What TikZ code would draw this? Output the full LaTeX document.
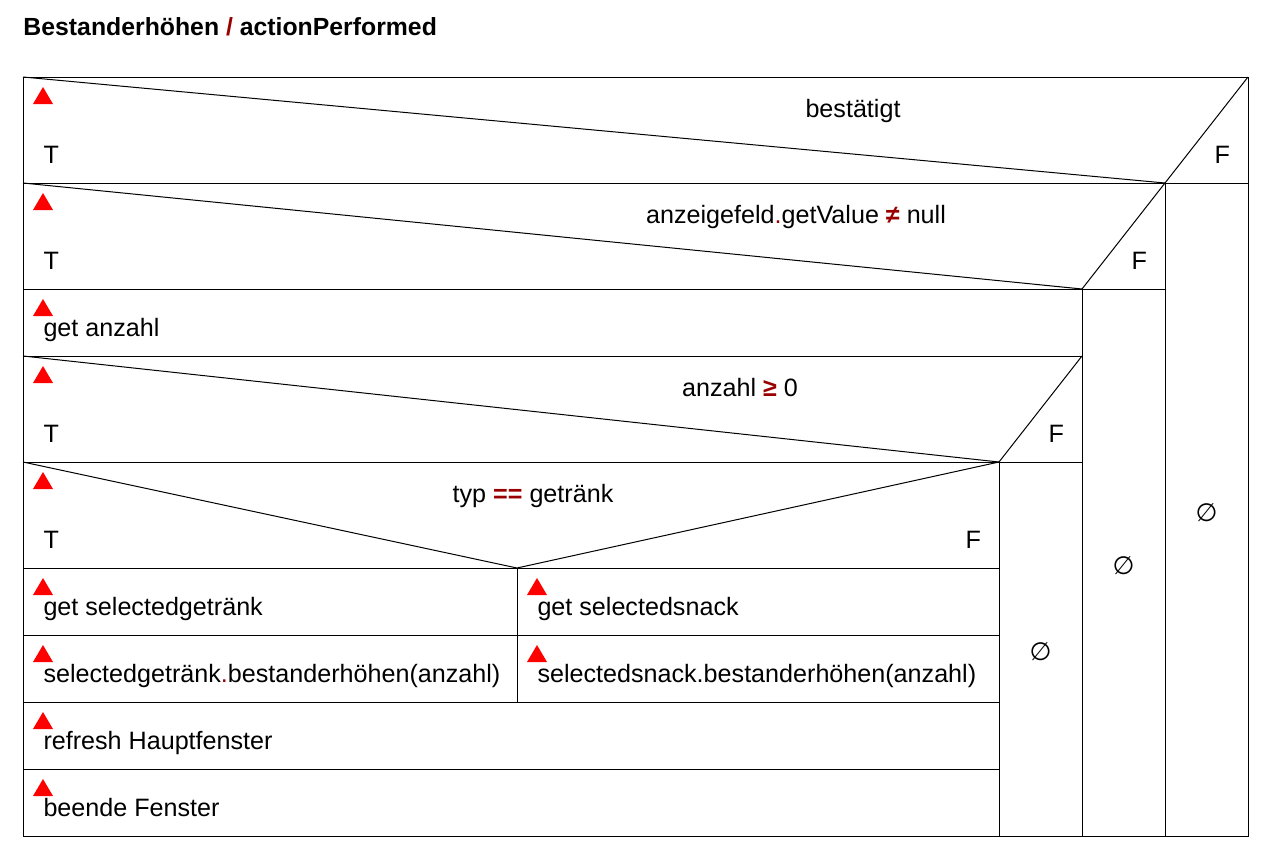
\documentclass[tikz,border=0pt]{standalone}
\usepackage{fontspec}
\setmainfont{Liberation Sans}
\newfontfamily\symfont{DejaVu Sans}
\definecolor{darkred}{RGB}{153,0,0}
\newcommand{\nsfont}{\fontsize{18.85pt}{22pt}\selectfont}
\newcommand{\op}[1]{{\color{darkred}\bfseries#1}}
\newcommand{\dotop}{{\color{darkred}.}}

\tikzset{every picture/.style={line width=0.75pt}}

\begin{document}
\begin{tikzpicture}[x=0.75pt,y=0.75pt,yscale=-1,xscale=1,
	lbl/.style={anchor=base west,inner sep=0pt,font=\nsfont},
	cond/.style={anchor=base,inner sep=0pt,font=\nsfont},
	empty/.style={anchor=center,inner sep=0pt,font=\nsfont\symfont},
	warn/.style={fill=red,draw=none}]
	\path (0,0) rectangle (1268,846); %keep the page at 1268 x 846
	
	%Shape: Rectangle [frame]
	\draw (23,77) rectangle (1248,836);
	%Straight Lines [rows]
	\draw (23,183) -- (1248,183);
	\draw (23,289) -- (1165,289);
	\draw (23,356) -- (1082,356);
	\draw (23,462) -- (1082,462);
	\draw (23,568) -- (999,568);
	\draw (23,635) -- (999,635);
	\draw (23,702) -- (999,702);
	\draw (23,769) -- (999,769);
	%Straight Lines [columns]
	\draw (1165,183) -- (1165,836);
	\draw (1082,289) -- (1082,836);
	\draw (999,462) -- (999,836);
	\draw (517,568) -- (517,702);
	%Straight Lines [branch heads]
	\draw (23,77) -- (1165,183) -- (1248,77);
	\draw (23,183) -- (1082,289) -- (1165,183);
	\draw (23,356) -- (999,462) -- (1082,356);
	\draw (23,462) -- (517,568) -- (999,462);
	
	%Shape: Triangle [one per block]
	\foreach \x/\y in {23/77,23/183,23/289,23/356,23/462,23/568,517/568,23/635,517/635,23/702,23/769}
		\fill[warn] (\x+10,\y+27) -- (\x+20,\y+10) -- (\x+30,\y+27) -- cycle;
	
	% Text Node
	\node (title) [anchor=base west,inner sep=0pt,font=\fontsize{18.6pt}{22pt}\selectfont\bfseries] at (23,36) {Bestanderhöhen \op{/} actionPerformed};
	
	% Text Node
	\node (bestaetigt) [cond] at (853,117) {bestätigt};
	\node (t1) [lbl] at (43,163) {T};
	\node (f1) [lbl] at (1214,163) {F};
	% Text Node
	\node (getvalue) [cond] at (796,223) {anzeigefeld\dotop getValue \op{≠} null};
	\node (t2) [lbl] at (43,269) {T};
	\node (f2) [lbl] at (1131,269) {F};
	% Text Node
	\node (getanzahl) [lbl] at (43,336) {get anzahl};
	% Text Node
	\node (anzahl) [cond] at (740,396) {anzahl \op{≥} 0};
	\node (t3) [lbl] at (43,442) {T};
	\node (f3) [lbl] at (1048,442) {F};
	% Text Node
	\node (typ) [cond] at (533,502) {typ \op{==} getränk};
	\node (t4) [lbl] at (43,548) {T};
	\node (f4) [lbl] at (965,548) {F};
	% Text Node
	\node (selgetraenk) [lbl] at (43,615) {get selectedgetränk};
	\node (selsnack) [lbl] at (537,615) {get selectedsnack};
	\node (upgetraenk) [lbl] at (43,682) {selectedgetränk\dotop bestanderhöhen(anzahl)};
	\node (upsnack) [lbl] at (537,682) {selectedsnack.bestanderhöhen(anzahl)};
	% Text Node
	\node (refresh) [lbl] at (43,749) {refresh Hauptfenster};
	\node (beende) [lbl] at (43,816) {beende Fenster};
	
	% Text Node [empty else branches]
	\node (e1) [empty] at (1206.5,513) {∅};
	\node (e2) [empty] at (1123.5,566) {∅};
	\node (e3) [empty] at (1040.5,652) {∅};
	
\end{tikzpicture}
\end{document}
